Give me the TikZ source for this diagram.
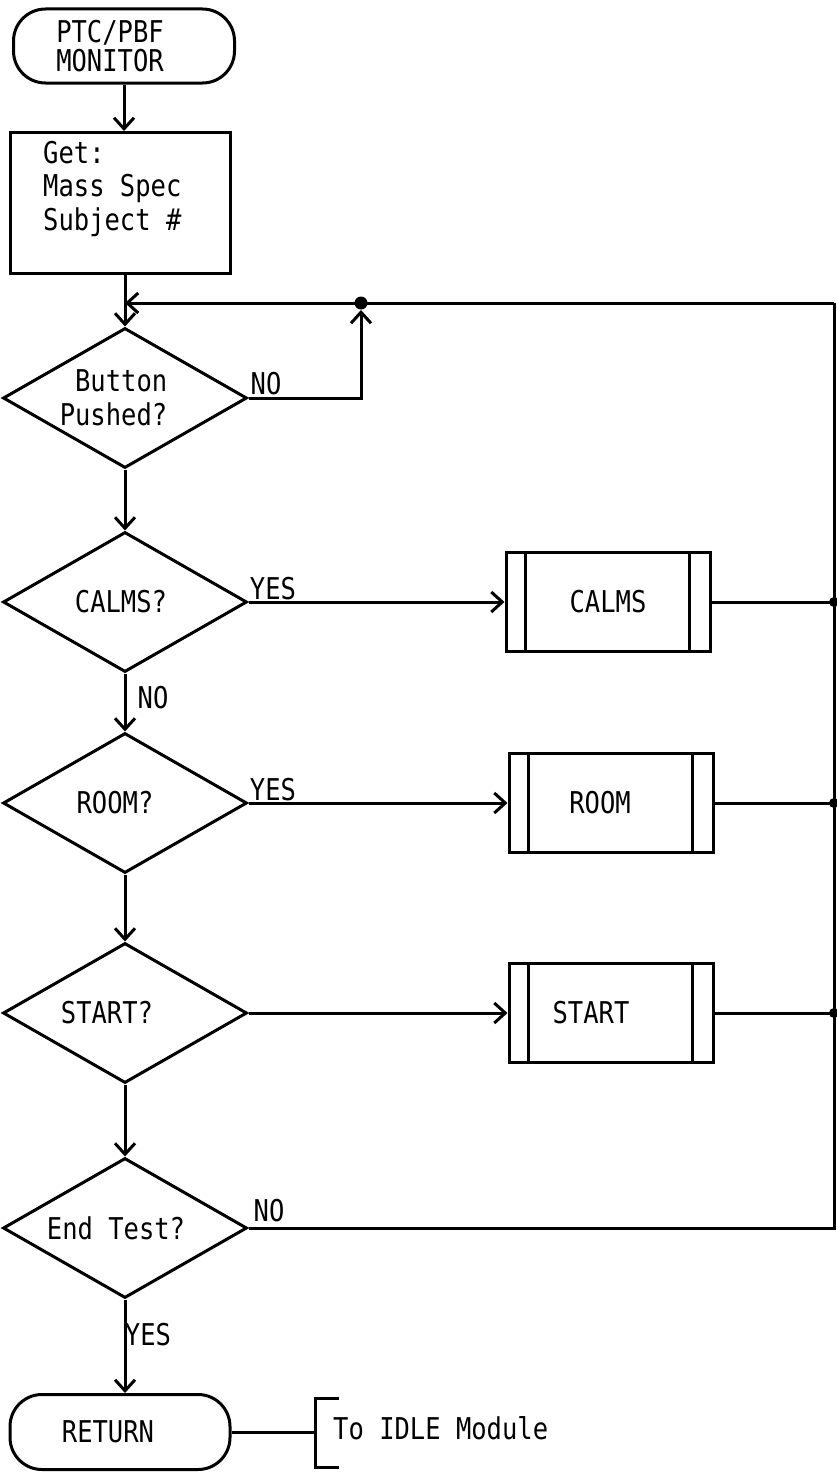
\documentclass[tikz,border=0pt]{standalone}
\usepackage{fontspec}
\newfontfamily\dfont{DejaVu Sans Mono}[FakeStretch=0.85]
\usetikzlibrary{shapes.geometric,arrows.meta}
\begin{document}
\begin{tikzpicture}[x=1pt,y=-1pt,
  every node/.style={font=\dfont\fontsize{30}{33.5}\selectfont, inner sep=0pt},
  ln/.style={line width=3pt, line join=miter},
  arr/.style={ln, -{Straight Barb[length=11pt,width=20pt]}},
  term/.style={draw, ln, rounded corners=32pt, minimum width=221pt, minimum height=74pt},
  proc/.style={draw, ln, minimum width=220pt, minimum height=141pt},
  dec/.style={draw, ln, diamond, aspect=1.76, minimum width=244pt, minimum height=140pt},
  sub/.style={draw, ln, minimum width=204pt, minimum height=99pt},
  jdot/.style={circle, fill, minimum size=10pt}]
\useasboundingbox (0,0) rectangle (836,1472);

% nodes
\node[term, align=center] (start) at (124,46) {\hspace*{-28pt}PTC/PBF\\[-4pt]\hspace*{-28pt}MONITOR};
\node[proc] (get) at (120,203) {};
\node[anchor=north west, align=left] (gettxt) at (43,141) {Get:\\Mass Spec\\Subject \#};
\node[dec, align=right] (b1) at (125,398) {\hspace*{-23pt}Button\\\hspace*{-23pt}Pushed?};
\node[dec] (d2) at (125,602) {\hspace*{-8pt}CALMS?};
\node[dec] (d3) at (125,803) {\hspace*{-20pt}ROOM?};
\node[dec] (d4) at (125,1013) {\hspace*{-36pt}START?};
\node[dec] (d5) at (125,1228) {\hspace*{-18pt}End Test?};
\node[term, minimum width=220pt, minimum height=75pt] (ret) at (120,1432) {\hspace*{-24pt}RETURN};

\node[sub] (cbox) at (608,602) {CALMS};
\node[sub] (rbox) at (611,803) {\hspace*{-22pt}ROOM};
\node[sub] (sbox) at (611,1013) {\hspace*{-40pt}START};
\foreach \b in {cbox,rbox,sbox}{
  \draw[ln] ([xshift=21pt]\b.north west) -- ([xshift=21pt]\b.south west);
  \draw[ln] ([xshift=-22pt]\b.north east) -- ([xshift=-22pt]\b.south east);
}

\node[anchor=west] (idle) at (333,1428) {To IDLE Module};

% junctions
\node[jdot, minimum size=13pt] (jn) at (361,303) {};
\node[jdot] (jc) at (834,602) {};
\node[jdot] (jr) at (834,803) {};
\node[jdot] (js) at (834,1013) {};
\coordinate (rt) at (834,303);
\coordinate (rb) at (834,1228);
\coordinate (bk) at (315,1432);

% connectors
\draw[arr] (start.south) -- (start.south |- get.north);
\draw[arr] (b1.north |- get.south) -- (b1.north);
\draw[arr] (rt) -- (b1.north |- rt);
\draw[arr, shorten >=7pt] (b1.east) -| (jn.center);
\draw[arr] (b1.south) -- (d2.north);
\draw[arr] (d2.east) -- (cbox.west);
\draw[arr] (d2.south) -- (d3.north);
\draw[arr] (d3.east) -- (rbox.west);
\draw[arr] (d3.south) -- (d4.north);
\draw[arr] (d4.east) -- (sbox.west);
\draw[arr] (d4.south) -- (d5.north);
\draw[arr] (d5.south) -- (d5.south |- ret.north);
\draw[ln] (cbox.east) -- (jc.center);
\draw[ln] (rbox.east) -- (jr.center);
\draw[ln] (sbox.east) -- (js.center);
\draw[ln] (d5.east) -- (rb) -- (rt);
\draw[ln] (ret.east) -- (bk);
\draw[ln] (339,1398) -- (315,1398) -- (315,1467) -- (339,1467);

% labels
\node (no1) at (266,384) {NO};
\node (yes2) at (273,589) {YES};
\node (no2) at (153,698) {NO};
\node (yes3) at (273,790) {YES};
\node (no5) at (269,1211) {NO};
\node (yes5) at (148,1335) {YES};
\end{tikzpicture}
\end{document}
